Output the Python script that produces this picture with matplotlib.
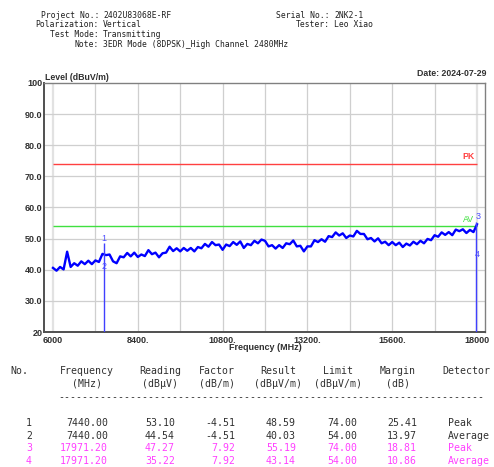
import matplotlib
matplotlib.use("Agg")
import matplotlib.pyplot as plt
import numpy as np

W, H = 494, 467

# ---------------- data ----------------
header_left = [("Project No.:", "2402U83068E-RF"),
               ("Polarization:", "Vertical"),
               ("Test Mode:", "Transmitting"),
               ("Note:", "3EDR Mode (8DPSK)_High Channel 2480MHz")]
header_right = [("Serial No.:", "2NK2-1"),
                ("Tester:", "Leo Xiao")]
date_text = "Date: 2024-07-29"

freq_start, freq_stop, freq_step = 6000, 18000, 100
level = [
    40.6, 39.7, 40.9, 40.1, 45.8, 40.9, 42.1, 41.3, 42.7, 41.8,
    42.9, 41.8, 43.0, 42.5, 45.1, 44.7, 44.9, 42.7, 42.1, 44.3,
    44.0, 45.4, 44.3, 45.5, 44.1, 44.9, 44.4, 46.3, 45.0, 45.5,
    44.0, 45.3, 45.5, 47.4, 46.0, 46.9, 45.9, 47.0, 46.1, 47.0,
    45.9, 47.3, 46.9, 48.3, 47.4, 48.9, 47.9, 48.1, 46.4, 48.1,
    47.6, 48.9, 48.0, 49.1, 47.0, 48.3, 47.9, 49.3, 48.5, 49.7,
    49.3, 47.5, 47.9, 46.8, 47.9, 47.0, 48.5, 48.2, 49.4, 47.5,
    47.7, 45.9, 47.5, 47.5, 49.5, 48.9, 49.8, 49.0, 50.8, 50.5,
    52.0, 51.0, 51.7, 50.2, 51.0, 50.7, 52.5, 51.5, 51.5, 49.8,
    50.2, 49.1, 50.1, 48.5, 49.0, 47.9, 48.9, 47.9, 48.7, 47.3,
    48.4, 47.8, 49.0, 48.2, 49.3, 48.5, 49.9, 49.5, 51.1, 50.6,
    52.0, 51.2, 52.1, 51.1, 52.9, 52.4, 53.0, 51.8, 52.8, 52.1,
    54.6,
]

pk_limit = 74.0
av_limit = 54.0

marker_no = [1, 2, 3, 4]
marker_freq = [7440.00, 7440.00, 17971.20, 17971.20]
marker_reading = [53.10, 44.54, 47.27, 35.22]
marker_factor = [-4.51, -4.51, 7.92, 7.92]
marker_result = [48.59, 40.03, 55.19, 43.14]
marker_limit = [74.00, 54.00, 74.00, 54.00]
marker_margin = [25.41, 13.97, 18.81, 10.86]
marker_detector = ["Peak", "Average", "Peak", "Average"]
marker_color = ["#303030", "#303030", "#ff40ff", "#ff40ff"]

y_ticks = [20, 30, 40, 50, 60, 70, 80, 90, 100]
y_tick_labels = ["20", "30.0", "40.0", "50.0", "60.0", "70.0", "80.0", "90.0", "100"]
x_ticks = [6000, 8400, 10800, 13200, 15600, 18000]
x_tick_labels = ["6000", "8400.", "10800.", "13200.", "15600.", "18000"]
x_grid = [6000, 7200, 8400, 9600, 10800, 12000, 13200, 14400, 15600, 16800, 18000]

table_headers1 = ["No.", "Frequency", "Reading", "Factor", "Result", "Limit", "Margin", "Detector"]
table_headers2 = ["", "(MHz)", "(dB\u03bcV)", "(dB/m)", "(dB\u03bcV/m)", "(dB\u03bcV/m)", "(dB)", ""]

# ---------------- figure ----------------
fig = plt.figure(figsize=(W / 100, H / 100), dpi=100)


def fx(x):
    return x / W


def fy(y):
    return 1 - y / H


mono = "DejaVu Sans Mono"
sans = "Liberation Sans"

# header
for i, (lab, val) in enumerate(header_left):
    y = 15 + i * 9.8
    fig.text(fx(99), fy(y), lab, ha="right", va="center", family=mono,
             fontsize=5.8, color="#202020")
    fig.text(fx(103), fy(y), val, ha="left", va="center", family=mono,
             fontsize=5.8, color="#202020")
for i, (lab, val) in enumerate(header_right):
    y = 15 + i * 9.8
    fig.text(fx(330), fy(y), lab, ha="right", va="center", family=mono,
             fontsize=5.8, color="#202020")
    fig.text(fx(334), fy(y), val, ha="left", va="center", family=mono,
             fontsize=5.8, color="#202020")

fig.text(fx(486), fy(73), date_text, ha="right", va="center", family=sans,
         fontweight="bold", fontsize=6.3, color="#303030")
fig.text(fx(45), fy(77), "Level (dBuV/m)", ha="left", va="center", family=sans,
         fontweight="bold", fontsize=6.3, color="#303030")

# axes
left, right, top, bottom = 44, 485, 83, 332
ax = fig.add_axes([fx(left), fy(bottom), (right - left) / W, (bottom - top) / H])
mhz_per_px = (freq_stop - freq_start) / (477 - 53)
ax.set_xlim(freq_start - 9 * mhz_per_px, freq_stop + 8 * mhz_per_px)
ax.set_ylim(20, 100)

for xg in x_grid:
    if xg in (freq_start, freq_stop):
        ax.axvline(xg, color="#e2e2e2", lw=1.6, zorder=0)
    else:
        ax.axvline(xg, color="#cfcfcf", lw=0.9, zorder=0)
for yg in y_ticks[1:-1]:
    ax.axhline(yg, color="#cfcfcf", lw=0.9, zorder=0)

freqs = np.arange(freq_start, freq_stop + 1, freq_step)
ax.plot(freqs, level, color="#0000ff", lw=1.7, zorder=3)

ax.hlines(pk_limit, freq_start, freq_stop, color="#ff4040", lw=1.0, zorder=2)
ax.hlines(av_limit, freq_start, freq_stop, color="#40e040", lw=1.0, zorder=2)
ax.text(17930, pk_limit + 0.8, "PK", color="#ff4040", fontsize=6.3,
        fontweight="bold", family=sans, ha="right", va="bottom")
ax.text(17930, av_limit + 0.6, "AV", color="#40e040", fontsize=6.3,
        family=sans, ha="right", va="bottom")

# markers
mark_col = "#5050ff"
for n, f, r in zip(marker_no, marker_freq, marker_result):
    if n % 2 == 1:
        ax.vlines(f, 20, r, color="#4040ff", lw=1.0, zorder=4)
lab_pos = {1: (0, 1.6), 2: (0, 0.9), 3: (60, 1.9), 4: (30, 1.6)}
for n, f, r in zip(marker_no, marker_freq, marker_result):
    dx, dy = lab_pos[n]
    ax.text(f + dx, r + dy, str(n), color=mark_col, fontsize=6.5,
            family=sans, ha="center", va="center", zorder=5)

for sp in ["top", "right"]:
    ax.spines[sp].set_color("#808080")
    ax.spines[sp].set_linewidth(1.0)
for sp in ["left", "bottom"]:
    ax.spines[sp].set_color("#505050")
    ax.spines[sp].set_linewidth(1.4)

ax.set_yticks(y_ticks)
ax.set_yticklabels(y_tick_labels)
ax.set_xticks(x_ticks)
ax.set_xticklabels(x_tick_labels)
ax.tick_params(length=0, labelsize=6.5, colors="#303030", pad=1)
ax.tick_params(axis="x", pad=3)
for t in ax.get_xticklabels() + ax.get_yticklabels():
    t.set_fontweight("bold")
    t.set_family(sans)

fig.text(fx(265), fy(347), "Frequency (MHz)", ha="center", va="center",
         family=sans, fontweight="bold", fontsize=6.5, color="#303030")

# table
col_center = [19, 87, 160, 217, 278, 338, 398, 466]
col_right = [32, 108, 175, 235, 296, 357, 417]
det_left = 448
tfs = 7.1
for c, h1, h2 in zip(col_center, table_headers1, table_headers2):
    fig.text(fx(c), fy(371), h1, ha="center", va="center", family=mono,
             fontsize=tfs, color="#303030")
    if h2:
        fig.text(fx(c), fy(384), h2, ha="center", va="center", family=mono,
                 fontsize=tfs, color="#303030")
fig.text(fx(58), fy(397), "-" * 71, ha="left", va="center", family=mono,
         fontsize=tfs, color="#303030")

row_y = [423, 435.7, 448.3, 461]
for i in range(len(marker_no)):
    vals = [str(marker_no[i]), f"{marker_freq[i]:.2f}", f"{marker_reading[i]:.2f}",
            f"{marker_factor[i]:.2f}", f"{marker_result[i]:.2f}",
            f"{marker_limit[i]:.2f}", f"{marker_margin[i]:.2f}"]
    for xr, v in zip(col_right, vals):
        fig.text(fx(xr), fy(row_y[i]), v, ha="right", va="center", family=mono,
                 fontsize=tfs, color=marker_color[i])
    fig.text(fx(det_left), fy(row_y[i]), marker_detector[i], ha="left", va="center",
             family=mono, fontsize=tfs, color=marker_color[i])

fig.savefig("out.png", dpi=100)
